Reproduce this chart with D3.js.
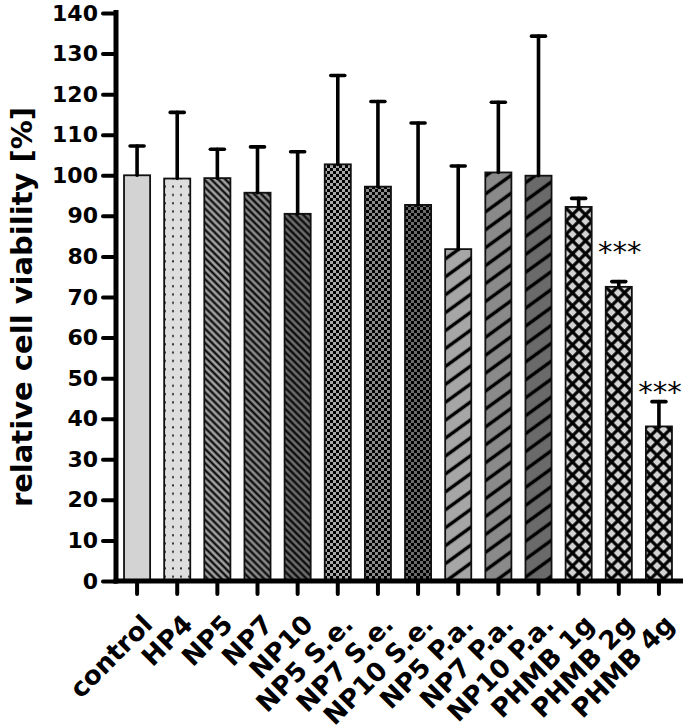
<!DOCTYPE html>
<html><head><meta charset="utf-8">
<script src="https://cdn.jsdelivr.net/npm/d3@7"></script>
<style>
html,body{margin:0;padding:0;background:#fff;}
svg{display:block;}
</style></head>
<body>
<svg id="chart" width="685" height="726"></svg>
<script>
const categories = ["control","HP4","NP5","NP7","NP10","NP5 S.e.","NP7 S.e.","NP10 S.e.","NP5 P.a.","NP7 P.a.","NP10 P.a.","PHMB 1g","PHMB 2g","PHMB 4g"];
const means = [100, 99.2, 99.3, 95.7, 90.5, 102.7, 97.2, 92.7, 81.8, 100.7, 99.9, 92.2, 72.5, 38.1];
const sds   = [7.2, 16.3, 7.1, 11.3, 15.3, 21.9, 21.0, 20.2, 20.5, 17.3, 34.4, 2.1, 1.3, 6.1];
const signif = ["","","","","","","","","","","","","***","***"];
const patterns = ["solid","dots","back1","back2","back3","chk1","chk2","chk3","fwd1","fwd2","fwd3","cross","cross","cross"];
const yTicks = [0,10,20,30,40,50,60,70,80,90,100,110,120,130,140];
const yLabel = "relative cell viability [%]";

const svg = d3.select("#chart");
const defs = svg.append("defs");

function solidPat(id, fill){
  const p = defs.append("pattern").attr("id",id).attr("patternUnits","userSpaceOnUse").attr("width",4).attr("height",4);
  p.append("rect").attr("width",4).attr("height",4).attr("fill",fill);
}
function dotPat(id, fill){
  const p = defs.append("pattern").attr("id",id).attr("patternUnits","userSpaceOnUse").attr("width",8).attr("height",8.3)
    .attr("x",1).attr("y",0);
  p.append("rect").attr("width",8).attr("height",8.3).attr("fill",fill);
  p.append("rect").attr("x",3).attr("y",3).attr("width",2).attr("height",2).attr("fill","#333");
}
function linePat(id, fill, period, width, angle){
  const p = defs.append("pattern").attr("id",id).attr("patternUnits","userSpaceOnUse")
    .attr("width",period).attr("height",period).attr("patternTransform",`rotate(${angle})`);
  p.append("rect").attr("width",period).attr("height",period).attr("fill",fill);
  p.append("rect").attr("x",0).attr("y",(period-width)/2).attr("width",period).attr("height",width).attr("fill","#000");
}
function chkPat(id, fill){
  const s = 3;
  const p = defs.append("pattern").attr("id",id).attr("patternUnits","userSpaceOnUse").attr("width",2*s).attr("height",2*s);
  p.append("rect").attr("width",2*s).attr("height",2*s).attr("fill",fill);
  p.append("rect").attr("width",s).attr("height",s).attr("fill","#000");
  p.append("rect").attr("x",s).attr("y",s).attr("width",s).attr("height",s).attr("fill","#000");
}
function crossPat(id, fill){
  const per = 9.2, w = 3.2;
  const p = defs.append("pattern").attr("id",id).attr("patternUnits","userSpaceOnUse")
    .attr("width",per).attr("height",per).attr("patternTransform","rotate(45)");
  p.append("rect").attr("width",per).attr("height",per).attr("fill",fill);
  p.append("rect").attr("x",0).attr("y",(per-w)/2).attr("width",per).attr("height",w).attr("fill","#000");
  p.append("rect").attr("y",0).attr("x",(per-w)/2).attr("height",per).attr("width",w).attr("fill","#000");
}
solidPat("solid","#d3d3d3");
dotPat("dots","#dedede");
linePat("back1","#a0a0a0",5,2.1,45);
linePat("back2","#8a8a8a",5,2.1,45);
linePat("back3","#6c6c6c",5,2.1,45);
chkPat("chk1","#a8a8a8");
chkPat("chk2","#8a8a8a");
chkPat("chk3","#6a6a6a");
linePat("fwd1","#a6a6a6",14.5,3.4,-36);
linePat("fwd2","#8a8a8a",14.5,3.4,-36);
linePat("fwd3","#6a6a6a",14.5,3.4,-36);
crossPat("cross","#d3d3d3");

const y = d3.scaleLinear().domain([0,140]).range([581,13]);
const x = d3.scaleBand().domain(categories).range([117,679]).paddingInner(0.35).paddingOuter(0.175);

const data = categories.map((c,i)=>({c, m:means[i], sd:sds[i], s:signif[i], p:patterns[i]}));

// bars
svg.append("g").selectAll("rect").data(data).join("rect")
  .attr("x",d=>x(d.c)).attr("width",x.bandwidth())
  .attr("y",d=>y(d.m)).attr("height",d=>y(0)-y(d.m))
  .attr("fill",d=>`url(#${d.p})`).attr("stroke","#111").attr("stroke-width",1.8);

// error bars
const eg = svg.append("g").attr("stroke","#000").attr("stroke-width",3.6).attr("stroke-linecap","round");
eg.selectAll("line.v").data(data).join("line").attr("class","v")
  .attr("x1",d=>x(d.c)+x.bandwidth()/2).attr("x2",d=>x(d.c)+x.bandwidth()/2)
  .attr("y1",d=>y(d.m)).attr("y2",d=>y(d.m+d.sd));
eg.selectAll("line.h").data(data).join("line").attr("class","h")
  .attr("x1",d=>x(d.c)+x.bandwidth()/2-7).attr("x2",d=>x(d.c)+x.bandwidth()/2+7)
  .attr("y1",d=>y(d.m+d.sd)).attr("y2",d=>y(d.m+d.sd));

// significance stars
svg.append("g").selectAll("text").data(data.filter(d=>d.s)).join("text")
  .attr("x",d=>x(d.c)+x.bandwidth()/2+1).attr("y",d=>y(d.m+10))
  .attr("text-anchor","middle").attr("dominant-baseline","central").attr("dy","0.2em")
  .attr("font-family","DejaVu Sans").attr("font-size",29).attr("fill","#000")
  .text(d=>d.s);

// y axis
const yAxis = svg.append("g").attr("transform","translate(116,0)")
  .call(d3.axisLeft(y).tickValues(yTicks).tickSize(13).tickPadding(5));
yAxis.select(".domain").attr("stroke","#000").attr("stroke-width",5).attr("d",`M0,${y(140)-3}V${y(0)+2.5}`);
yAxis.selectAll(".tick line").attr("stroke","#000").attr("stroke-width",4).attr("stroke-linecap","round");
yAxis.selectAll(".tick text").attr("font-family","DejaVu Sans").attr("font-weight","bold").attr("font-size",22).attr("fill","#000");

// x axis
const xAxis = svg.append("g").attr("transform",`translate(0,${y(0)})`)
  .call(d3.axisBottom(x).tickSize(13).tickPadding(8));
xAxis.select(".domain").attr("stroke","#000").attr("stroke-width",5).attr("d",`M113.5,0H${x.range()[1]+4}`);
xAxis.selectAll(".tick line").attr("stroke","#000").attr("stroke-width",4).attr("stroke-linecap","round");
xAxis.selectAll(".tick text")
  .attr("font-family","DejaVu Sans").attr("font-weight","bold").attr("font-size",26).attr("fill","#000")
  .attr("text-anchor","end").attr("y",0).attr("dy",0)
  .attr("transform","translate(17,45) rotate(-45)");

// y label
svg.append("text")
  .attr("transform",`translate(32,${(y(0)+y(140))/2+10}) rotate(-90)`)
  .attr("text-anchor","middle")
  .attr("font-family","DejaVu Sans").attr("font-weight","bold").attr("font-size",29).attr("fill","#000")
  .text(yLabel);
</script>
</body></html>
